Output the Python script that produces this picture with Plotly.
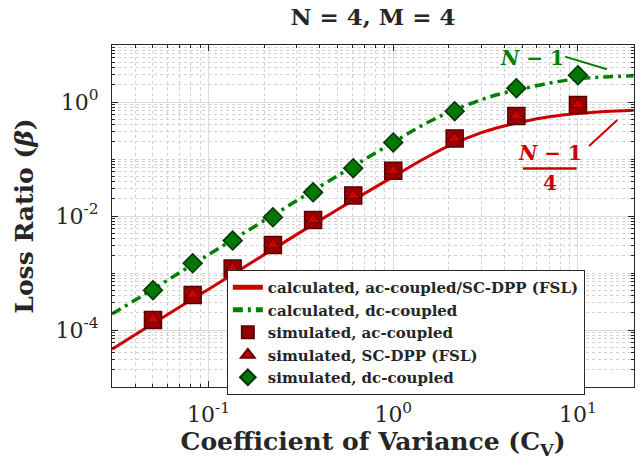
import plotly.graph_objects as go

# ---------------- data ----------------
x_curve = [0.03, 0.05, 0.1, 0.2, 0.5, 1.0, 1.5, 2.0, 3.0, 4.0, 5.0, 7.0, 10.0, 14.0, 20.0]
calc_ac = [4.6e-5, 1.3e-4, 5.2e-4, 2.1e-3, 1.3e-2, 0.049, 0.105, 0.17, 0.29, 0.38, 0.45, 0.55, 0.63, 0.68, 0.72]
calc_dc = [1.9e-4, 5.2e-4, 2.1e-3, 8.3e-3, 5.1e-2, 0.196, 0.42, 0.66, 1.1, 1.45, 1.7, 2.15, 2.55, 2.75, 2.9]

x_sim = [0.05, 0.082, 0.135, 0.223, 0.368, 0.607, 1.0, 2.15, 4.64, 10.0]
sim_ac = [1.5e-4, 4.1e-4, 1.2e-3, 3.1e-3, 8.5e-3, 0.023, 0.062, 0.23, 0.57, 0.89]
sim_sc = [1.55e-4, 4.2e-4, 1.2e-3, 3.1e-3, 8.6e-3, 0.023, 0.062, 0.23, 0.57, 0.90]
sim_dc = [5.0e-4, 1.48e-3, 3.7e-3, 9.5e-3, 0.026, 0.069, 0.195, 0.69, 1.75, 2.95]

x_tickvals = [0.1, 1, 10]
x_ticktext = ["10<sup>-1</sup>", "10<sup>0</sup>", "10<sup>1</sup>"]
y_tickvals = [1e-4, 1e-2, 1]
y_ticktext = ["10<sup>-4</sup>", "10<sup>-2</sup>", "10<sup>0</sup>"]

names = ["calculated, ac-coupled/SC-DPP (FSL)", "calculated, dc-coupled",
         "simulated, ac-coupled", "simulated, SC-DPP (FSL)", "simulated, dc-coupled"]

SERIF = "DejaVu Serif"
RED = "#cc0000"
GREEN = "#008000"
INK = "#262626"

fig = go.Figure()
fig.add_trace(go.Scatter(x=x_curve, y=calc_ac, mode="lines", name="<b>" + names[0] + "</b>",
                         line=dict(color=RED, width=3, shape="spline")))
fig.add_trace(go.Scatter(x=x_curve, y=calc_dc, mode="lines", name="<b>" + names[1] + "</b>",
                         line=dict(color=GREEN, width=3.5, shape="spline", dash="10px,5px,3px,5px")))
fig.add_trace(go.Scatter(x=x_sim, y=sim_ac, mode="markers", name="<b>" + names[2] + "</b>",
                         marker=dict(symbol="square", size=17, color="#990000",
                                     line=dict(color="#5a0000", width=1.5))))
fig.add_trace(go.Scatter(x=x_sim, y=sim_sc, mode="markers", name="<b>" + names[3] + "</b>",
                         marker=dict(symbol="triangle-up", size=12, color=RED,
                                     line=dict(color="#660000", width=1))))
fig.add_trace(go.Scatter(x=x_sim, y=sim_dc, mode="markers", name="<b>" + names[4] + "</b>",
                         marker=dict(symbol="diamond", size=14.5, color="#007700",
                                     line=dict(color="#003300", width=1.5))))


def minor_vals(lo, hi, majors):
    vals = []
    for e in range(lo, hi + 1):
        for k in range(1, 10):
            v = k * 10.0 ** e
            if all(abs(v - m) / m > 1e-9 for m in majors):
                vals.append(v)
    return vals


axis_common = dict(
    type="log", showline=True, linecolor=INK, linewidth=1, mirror="ticks",
    ticks="inside", ticklen=6, tickwidth=1, tickcolor=INK,
    showgrid=True, gridcolor="#dcdcdc", gridwidth=1, zeroline=False,
    tickfont=dict(family=SERIF, size=22, color=INK),
)

fig.update_xaxes(
    **axis_common,
    range=[-1.523, 1.3035], tickmode="array", tickvals=x_tickvals, ticktext=x_ticktext,
    ticklabelstandoff=8,
    minor=dict(tickmode="array", tickvals=minor_vals(-2, 1, x_tickvals), ticks="inside",
               ticklen=3, tickcolor=INK, showgrid=True, gridcolor="#d2d2d2",
               griddash="dot", gridwidth=1),
    title=dict(text="<b>Coefficient of Variance (C<sub>V</sub>)</b>",
               font=dict(family=SERIF, size=25, color=INK), standoff=4),
)
fig.update_yaxes(
    **axis_common,
    range=[-5, 1], tickmode="array", tickvals=y_tickvals, ticktext=y_ticktext,
    ticklabelstandoff=8,
    minor=dict(tickmode="array", tickvals=minor_vals(-5, 0, y_tickvals), ticks="inside",
               ticklen=3, tickcolor=INK, showgrid=True, gridcolor="#d2d2d2",
               griddash="dot", gridwidth=1),
    title=dict(text="<b>Loss Ratio (<i>β</i>)</b>",
               font=dict(family=SERIF, size=25, color=INK), standoff=14),
)

fig.update_layout(
    width=642, height=468,
    margin=dict(l=112, r=8, t=45, b=81),
    paper_bgcolor="white", plot_bgcolor="white",
    title=dict(text="<b>N = 4, M = 4</b>", x=(112 + 634) / 2 / 642, xanchor="center",
               y=1 - 17 / 468, yanchor="middle",
               font=dict(family=SERIF, size=23, color=INK)),
    legend=dict(x=0.22, y=0.342, xanchor="left", yanchor="top",
                bgcolor="white", bordercolor=INK, borderwidth=1,
                font=dict(family=SERIF, size=15, color=INK),
                itemwidth=30, itemsizing="constant", tracegroupgap=0),
    showlegend=True,
)

# Asymptote labels
fig.add_annotation(xref="paper", yref="paper", x=0.804, y=0.961, xanchor="center", yanchor="middle",
                   text="<i>N</i> − 1", showarrow=False,
                   font=dict(family=SERIF, size=20, color=GREEN, weight="bold"))
fig.add_shape(type="line", xref="paper", yref="paper", x0=0.868, y0=0.966, x1=0.948, y1=0.929,
              line=dict(color=GREEN, width=2))
fig.add_annotation(xref="paper", yref="paper", x=0.839, y=0.683, xanchor="center", yanchor="middle",
                   text="<i>N</i> − 1", showarrow=False,
                   font=dict(family=SERIF, size=20, color=RED, weight="bold"))
fig.add_shape(type="line", xref="paper", yref="paper", x0=0.787, y0=0.639, x1=0.890, y1=0.639,
              line=dict(color=RED, width=2.5))
fig.add_annotation(xref="paper", yref="paper", x=0.839, y=0.596, xanchor="center", yanchor="middle",
                   text="4", showarrow=False,
                   font=dict(family=SERIF, size=20, color=RED, weight="bold"))
fig.add_shape(type="line", xref="paper", yref="paper", x0=0.914, y0=0.705, x1=0.968, y1=0.781,
              line=dict(color=RED, width=2))

fig.write_html("out.html")
